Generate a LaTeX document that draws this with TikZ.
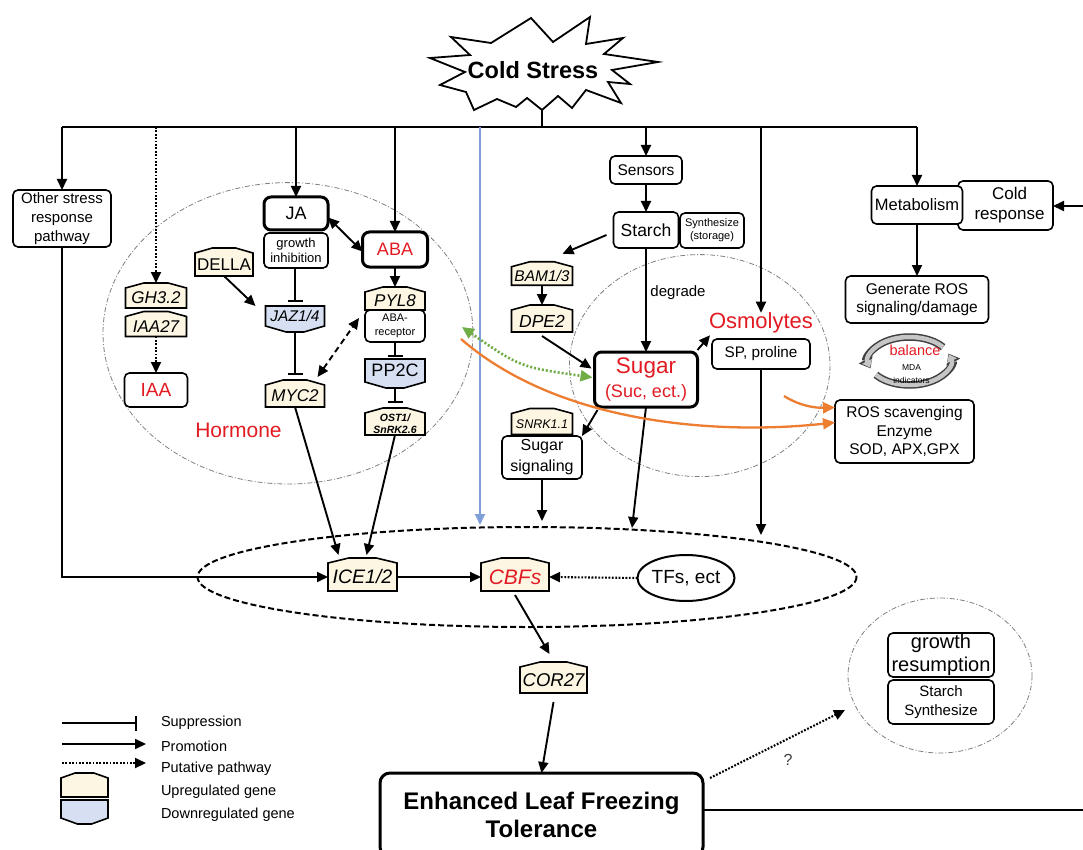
\documentclass[tikz,border=0pt]{standalone}
\usepackage{fontspec}
\setmainfont{Liberation Sans}
\usetikzlibrary{arrows.meta,backgrounds,calc,shapes.geometric}
\definecolor{cred}{RGB}{226,27,35}
\definecolor{corange}{RGB}{237,125,49}
\definecolor{cgreen}{RGB}{112,173,71}
\definecolor{cblue}{RGB}{127,160,215}
\definecolor{upfill}{RGB}{253,246,227}
\definecolor{downfill}{RGB}{214,224,242}
\newcommand{\fsz}[2]{\fontsize{#1}{#2}\selectfont}
\newcommand{\geneup}[1]{\draw[gshape,fill=upfill] (#1.south west) -- (#1.north west) -- ($(#1.north west)!0.3!(#1.north east)+(0,-5)$) -- ($(#1.north west)!0.7!(#1.north east)+(0,-5)$) -- (#1.north east) -- (#1.south east) -- cycle;}
\newcommand{\genedown}[1]{\draw[gshape,fill=downfill] (#1.north west) -- (#1.south west) -- ($(#1.south west)!0.35!(#1.south east)+(0,6)$) -- ($(#1.south west)!0.65!(#1.south east)+(0,6)$) -- (#1.south east) -- (#1.north east) -- cycle;}
\begin{document}
\begin{tikzpicture}[x=1pt,y=-1pt,
 every node/.style={inner sep=0pt,outer sep=0pt},
 box/.style={draw,line width=1.6pt,rounded corners=5pt,fill=white,align=center},
 tbox/.style={box,line width=3pt,rounded corners=7pt},
 gene/.style={align=center},
 gshape/.style={line width=1.6pt,line join=miter},
 ln/.style={line width=1.9pt},
 arr/.style={line width=1.9pt,-{Triangle[length=11pt,width=10pt]}},
 darr/.style={line width=1.9pt,{Triangle[length=11pt,width=10pt]}-{Triangle[length=11pt,width=10pt]}},
 dotarr/.style={line width=2.1pt,dash pattern=on 1.8pt off 1.6pt,-{Triangle[length=11pt,width=10pt]}},
 suparr/.style={line width=1.9pt,-{Bar[width=15pt,line width=2.2pt]}},
 oarr/.style={corange,line width=2.3pt,-{Triangle[length=12pt,width=11pt]}},
 garr/.style={cgreen,line width=2.6pt,dash pattern=on 2pt off 2pt,{Triangle[length=12pt,width=11pt]}-{Triangle[length=12pt,width=11pt]}},
 ddot/.style={gray,line width=0.8pt,dash pattern=on 5pt off 2pt on 1pt off 2pt},
 dellipse/.style={line width=2pt,dash pattern=on 6pt off 3pt}
]
\useasboundingbox (0,0) rectangle (1083,850);
\begin{scope}[on background layer]
\fill[white] (0,0) rectangle (1083,850);
\draw[ddot] (288,333.3) ellipse [x radius=185, y radius=150.7];
\draw[ddot] (699.7,365.6) ellipse [x radius=130.3, y radius=111];
\draw[ddot] (940,675.5) ellipse [x radius=92, y radius=77.5];
\end{scope}
\clip (0,0) rectangle (1083,850);

% cold stress starburst
\draw[line width=1.8pt,fill=white,line join=miter] (531,18) -- (553,42) -- (590,17) -- (586,44) -- (623,38) -- (604,54) -- (658,62) -- (612,70) -- (630,84) -- (608,82) -- (621,103) -- (586,90) -- (572,108) -- (558,96) -- (542,110) -- (527,98) -- (516,107) -- (497,99) -- (474,110) -- (466,92) -- (440,85) -- (465,72) -- (430,58) -- (470,55) -- (451,37) -- (491,43) -- cycle;
\node[font=\bfseries\fsz{23.5}{26}] (stress) at (533,70) {Cold Stress};
\coordinate (stemtop) at (542,110);

% bus coordinates
\coordinate (b1) at (62,127);
\coordinate (b2) at (156,127);
\coordinate (b3) at (296,127);
\coordinate (b4) at (395,127);
\coordinate (b5) at (480,127);
\coordinate (b6) at (542,127);
\coordinate (b7) at (646,127);
\coordinate (b8) at (761,127);
\coordinate (b9) at (917,127);
\coordinate (blueend) at (480,525);
\coordinate (spend) at (761,535);
\coordinate (sugend) at (632,528);
\coordinate (sigend) at (542,521);
\coordinate (rin) at (1083,206);
\coordinate (rout) at (1083,810);
\coordinate (qend) at (845,710);
\coordinate (orA) at (461,339);
\coordinate (orB) at (784,396);
\coordinate (grA) at (462,327);

% dashed ellipse
\draw[dellipse] (527,577) ellipse [x radius=329.5, y radius=50];

% boxes
\node[box,minimum width=98,minimum height=57,font=\fsz{15}{19}] (other) at (62,218.5) {Other stress\\response\\pathway};
\node[tbox,minimum width=64,minimum height=33,font=\fsz{18}{20}] (ja) at (296,213.5) {JA};
\node[box,minimum width=64,minimum height=35,font=\fsz{13}{15}] (growth) at (296,250.5) {growth\\inhibition};
\node[tbox,minimum width=65,minimum height=35,font=\fsz{18}{20},text=cred] (aba) at (395,249.5) {ABA};
\node[box,minimum width=60,minimum height=32,font=\fsz{11}{13.5}] (rec) at (395,326) {ABA-\\receptor};
\node[box,minimum width=63,minimum height=34,font=\fsz{19}{21},text=cred] (iaa) at (156,390) {IAA};
\node[box,minimum width=72,minimum height=28,font=\fsz{15.5}{18}] (sensors) at (646,170) {Sensors};
\node[box,minimum width=65,minimum height=36,font=\fsz{17.5}{20}] (starch) at (646,230) {Starch};
\node[box,minimum width=64,minimum height=35,font=\fsz{11}{13}] (synth) at (712,230.5) {Synthesize\\(storage)};
\node[tbox,minimum width=103,minimum height=55,font=\fsz{18}{24},text=cred] (sugar) at (646,379.5) {{\fsz{22.5}{26}Sugar}\\(Suc, ect.)};
\node[box,minimum width=98,minimum height=30,font=\fsz{15.3}{18}] (sp) at (761,354) {SP, proline};
\node[font=\fsz{22}{24},text=cred] (osmo) at (761,323) {Osmolytes};
\node[box,minimum width=80,minimum height=43,font=\fsz{16}{21}] (sugsig) at (542,457.5) {Sugar\\signaling};
\node[box,minimum width=95,minimum height=49,font=\fsz{17}{20}] (coldr) at (1005.5,205.5) {\hspace*{8pt}Cold\\\hspace*{8pt}response};
\node[box,minimum width=91,minimum height=38,font=\fsz{16.5}{19}] (met) at (917,205) {Metabolism};
\node[box,minimum width=143,minimum height=47,font=\fsz{15.5}{18.5}] (genros) at (917,299.5) {Generate ROS\\signaling/damage};
\node[box,minimum width=139,minimum height=63,font=\fsz{15.5}{18.3}] (ros) at (904.5,431.5) {ROS scavenging\\Enzyme\\SOD, APX,GPX};
\node[box,minimum width=106,minimum height=44,font=\fsz{20}{22.5}] (grow) at (941,655) {growth\\resumption};
\node[box,minimum width=106,minimum height=44,font=\fsz{15}{18.3}] (stsyn) at (941,702) {Starch\\Synthesize};
\node[tbox,minimum width=323,minimum height=84,rounded corners=10pt,font=\bfseries\fsz{24}{28}] (enh) at (541.5,815) {Enhanced Leaf Freezing\\Tolerance};
\node[draw,ellipse,line width=2pt,minimum width=80,minimum height=46,font=\fsz{19}{21}] (tfs) at (686,578) {TFs, ect};

% genes
\node[gene,minimum width=61,minimum height=20,font=\itshape\fsz{17}{19}] (gh) at (156,298) {GH3.2};
\node[gene,minimum width=61,minimum height=20,font=\itshape\fsz{17}{19}] (iaa27) at (156,326.5) {IAA27};
\node[gene,minimum width=58,minimum height=23,font=\fsz{17}{19}] (della) at (224,264.5) {DELLA};
\node[gene,minimum width=59,minimum height=20,font=\itshape\fsz{15.5}{18}] (jaz) at (295,316) {JAZ1/4};
\node[gene,minimum width=59,minimum height=22,font=\itshape\fsz{17}{19}] (myc) at (295,396) {MYC2};
\node[gene,minimum width=60,minimum height=18,font=\itshape\fsz{17}{19}] (pyl) at (395,301) {PYL8};
\node[gene,minimum width=60,minimum height=23,font=\fsz{18}{20}] (pp2c) at (395,370.5) {PP2C};
\node[gene,minimum width=60,minimum height=22,font=\bfseries\itshape\fsz{10.5}{12}] (ost) at (395,424) {OST1/\\SnRK2.6};
\node[gene,minimum width=61,minimum height=18.5,font=\itshape\fsz{15.5}{18}] (bam) at (542,276) {BAM1/3};
\node[gene,minimum width=61,minimum height=22,font=\itshape\fsz{17.5}{19}] (dpe) at (542,321) {DPE2};
\node[gene,minimum width=61,minimum height=21,font=\itshape\fsz{12.5}{14}] (snrk) at (542,424) {SNRK1.1};
\node[gene,minimum width=69,minimum height=28,font=\itshape\fsz{19.5}{21}] (ice) at (362.5,577) {ICE1/2};
\node[gene,minimum width=68,minimum height=28,font=\itshape\fsz{21}{23},text=cred] (cbfs) at (515,577) {CBFs};
\node[gene,minimum width=67,minimum height=26,font=\itshape\fsz{18.5}{20}] (cor) at (553.5,680) {COR27};
\node[gene,minimum width=47,minimum height=19] (lgup) at (84.5,787.5) {};
\node[gene,minimum width=47,minimum height=18] (lgdn) at (84.5,809) {};

\begin{scope}[on background layer]
\geneup{gh} \geneup{iaa27} \geneup{della} \genedown{jaz} \geneup{myc} \geneup{pyl} \genedown{pp2c} \geneup{ost} \geneup{bam} \geneup{dpe} \geneup{snrk} \geneup{ice} \geneup{cbfs} \geneup{cor} \geneup{lgup} \genedown{lgdn}
\end{scope}

% texts
\node[font=\fsz{21}{23},text=cred] (horm) at (238.5,430) {Hormone};
\node[font=\fsz{15}{17}] (degr) at (678,293) {degrade};
\node[font=\fsz{16}{18},text=black!75] (qm) at (788,760) {?};

% bus and connectors
\draw[ln] (b1) -- (b9);
\draw[ln] (stemtop) -- (b6);
\draw[arr] (b1) -- (other.north);
\draw[dotarr] (b2) -- ([yshift=5pt]gh.north);
\draw[dotarr] (iaa27.south) -- (iaa.north);
\draw[arr] (b3) -- (ja.north);
\draw[arr] (b4) -- (aba.north);
\draw[darr] ([yshift=-4pt]ja.east) -- ([yshift=-2pt]aba.west);
\draw[arr] (della.south) -- ([xshift=-10pt]jaz.north west);
\draw[suparr] (jaz.north |- growth.south) -- ([yshift=4pt]jaz.north);
\draw[suparr] ([yshift=-7pt]jaz.south) -- ([yshift=10pt]myc.north);
\draw[darr,dash pattern=on 6pt off 4pt] ([xshift=-7pt,yshift=8pt]myc.north east) -- ([xshift=-6pt,yshift=8pt]rec.west);
\draw[arr] (aba.south) -- ([yshift=5pt]pyl.north);
\draw[suparr] (rec.south) -- ([yshift=2pt]pp2c.north);
\draw[suparr] ([yshift=-6pt]pp2c.south) -- ([yshift=10pt]ost.north);
\draw[arr] (myc.south) -- ([xshift=-24pt,yshift=8pt]ice.north);
\draw[arr] (ost.south) -- ([xshift=4pt,yshift=8pt]ice.north);
\draw[arr] (other.south) |- (ice.west);
\draw[arr] (ice.east) -- (cbfs.west);
\draw[dotarr] (tfs.west) -- (cbfs.east);
\draw[arr] ([yshift=-4pt]cbfs.south) -- ([xshift=-4pt,yshift=13pt]cor.north);
\draw[arr] ([yshift=-9pt]cor.south) -- (enh.north);
\draw[dotarr] ([xshift=7pt,yshift=-5pt]enh.north east) -- (qend);
\draw[ln] (enh.east |- rout) -- (rout);
\draw[arr] (rin) -- (rin -| coldr.east);
\draw[arr] (b9) -- (met.north);
\draw[arr] (met.south) -- (genros.north);
\draw[arr,cblue] (b5) -- (blueend);
\draw[arr] (b7) -- (sensors.north);
\draw[arr] (sensors.south) -- (starch.north);
\draw[arr] ([xshift=-7pt,yshift=-5pt]starch.west) -- ([xshift=-10pt,yshift=13pt]bam.north east);
\draw[arr] (bam.south) -- ([yshift=5pt]dpe.north);
\draw[arr] ([yshift=-4pt]dpe.south) -- ([xshift=-3pt,yshift=11pt]sugar.west);
\draw[arr] (starch.south) -- (sugar.north);
\draw[arr] ([yshift=2pt]sugar.north east) -- ([xshift=1pt,yshift=-2pt]osmo.south west);
\draw[arr] (b8) -- (osmo.north);
\draw[arr] (sp.south) -- (spend);
\draw[arr] ([xshift=3pt,yshift=-3pt]sugar.south west) -- (sugsig.north east);
\draw[arr] (sugar.south) -- (sugend);
\draw[arr] (sugsig.south) -- (sigend);

% orange and green
\draw[oarr] (orA) .. controls (560,425) and (720,435) .. ([yshift=9pt]ros.west);
\draw[oarr] (orB) .. controls (800,406) and (815,408) .. ([yshift=24pt]ros.west);
\draw[garr] (grA) .. controls (520,367) .. ([xshift=-2pt,yshift=2pt]sugar.west);

% balance ring
\begin{scope}[shift={(909.5,361)},y=1pt]
\draw[line width=7.5pt,black!75,-{Triangle[length=10pt,width=15pt]}] (35:41 and 24) arc[start angle=35,end angle=198,x radius=41,y radius=24];
\draw[line width=4.5pt,gray!45,-{Triangle[length=7pt,width=10.5pt]}] (35:41 and 24) arc[start angle=35,end angle=196,x radius=41,y radius=24];
\draw[line width=7.5pt,black!75,-{Triangle[length=10pt,width=15pt]}] (215:41 and 24) arc[start angle=215,end angle=378,x radius=41,y radius=24];
\draw[line width=4.5pt,gray!45,-{Triangle[length=7pt,width=10.5pt]}] (215:41 and 24) arc[start angle=215,end angle=376,x radius=41,y radius=24];
\end{scope}
\node[font=\fsz{14.5}{16},text=cred] (bal) at (915,350.5) {balance};
\node[font=\fsz{8.5}{10}] (mda) at (911.5,368) {MDA};
\node[font=\fsz{8.5}{10}] (ind) at (911.5,380) {indicators};

% legend
\coordinate (l1a) at (62,723); \coordinate (l1b) at (137,723);
\coordinate (l2a) at (62,744); \coordinate (l2b) at (146,744);
\coordinate (l3a) at (62,763); \coordinate (l3b) at (146,763);
\draw[suparr] (l1a) -- (l1b);
\draw[arr] (l2a) -- (l2b);
\draw[dotarr] (l3a) -- (l3b);
\node[anchor=west,font=\fsz{14.5}{16}] (t1) at (161,723) {Suppression};
\node[anchor=west,font=\fsz{14.5}{16}] (t2) at (161,746) {Promotion};
\node[anchor=west,font=\fsz{14.5}{16}] (t3) at (161,769) {Putative pathway};
\node[anchor=west,font=\fsz{14.5}{16}] (t4) at (161,792) {Upregulated gene};
\node[anchor=west,font=\fsz{14.5}{16}] (t5) at (161,815) {Downregulated gene};
\end{tikzpicture}
\end{document}
